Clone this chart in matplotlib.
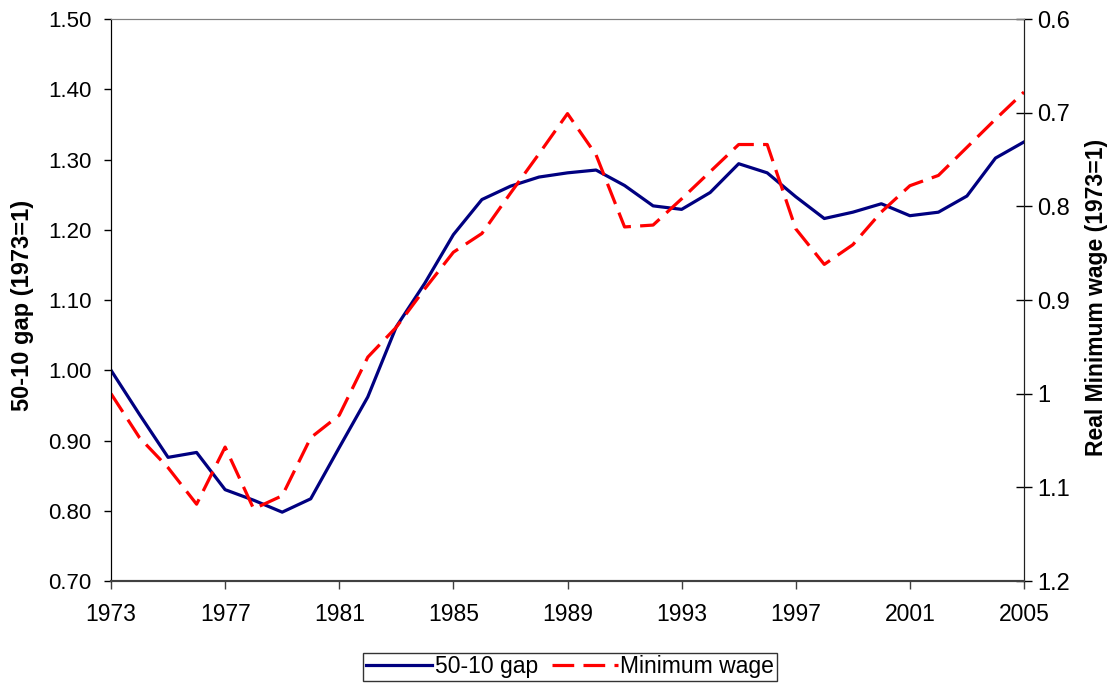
import matplotlib.pyplot as plt
import numpy as np

plt.rcParams['font.family'] = ['Liberation Sans', 'DejaVu Sans']

# ── Data ───────────────────────────────────────────────────────────────────────
years = np.arange(1973, 2006)

gap_50_10 = [1.000, 0.937, 0.876, 0.883, 0.830, 0.815, 0.798, 0.817, 0.890,
             0.962, 1.062, 1.124, 1.193, 1.243, 1.262, 1.275, 1.281, 1.285,
             1.263, 1.234, 1.229, 1.253, 1.294, 1.281, 1.247, 1.216, 1.225,
             1.237, 1.220, 1.225, 1.248, 1.302, 1.325]

min_wage = [1.000, 1.047, 1.079, 1.118, 1.057, 1.123, 1.109, 1.047, 1.023,
            0.961, 0.929, 0.888, 0.849, 0.829, 0.786, 0.744, 0.701, 0.745,
            0.822, 0.820, 0.792, 0.763, 0.734, 0.734, 0.824, 0.862, 0.841,
            0.806, 0.778, 0.767, 0.737, 0.707, 0.678]

x_ticks = np.arange(1973, 2006, 4)
left_ticks = np.arange(0.70, 1.501, 0.10)
right_ticks = [0.6, 0.7, 0.8, 0.9, 1.0, 1.1, 1.2]
right_labels = ["0.6", "0.7", "0.8", "0.9", "1", "1.1", "1.2"]

# ── Figure ─────────────────────────────────────────────────────────────────────
W, H = 1117, 685
fig = plt.figure(figsize=(W / 100, H / 100), dpi=100)
ax = fig.add_axes([111 / W, 1 - 581 / H, 913 / W, 562 / H])
ax2 = ax.twinx()

l1, = ax.plot(years, gap_50_10, color="#000080", lw=2.3, label="50-10 gap")
l2, = ax2.plot(years, min_wage, color="#ff0000", lw=2.3, dashes=(6.8, 2.9),
               label="Minimum wage")

ax.set_xlim(1973, 2005)
ax.set_ylim(0.70, 1.50)
ax2.set_ylim(1.2, 0.6)   # right axis runs downwards

ax.set_xticks(x_ticks)
ax.set_yticks(left_ticks)
ax.set_yticklabels([f"{v:.2f}" for v in left_ticks])
ax2.set_yticks(right_ticks)
ax2.set_yticklabels(right_labels)

ax.tick_params(axis="y", labelsize=16, direction="out", length=5, width=1,
               pad=9)
ax.tick_params(axis="x", labelsize=16.5, direction="out", length=6, width=1,
               colors="#404040", labelcolor="black", pad=10)
ax2.tick_params(axis="y", labelsize=17, direction="inout", length=11, width=1,
                pad=4)

ax.set_ylabel("50-10 gap (1973=1)", fontsize=17, fontweight="bold",
              va="center")
ax.yaxis.set_label_coords(-88 / 913, 0.49, transform=ax.transAxes)
ax2.set_ylabel("Real Minimum wage (1973=1)", fontsize=16.5, fontweight="bold",
               va="center", rotation=90)
ax2.yaxis.set_label_coords(1 + 73 / 913, 0.505, transform=ax.transAxes)

for a in (ax, ax2):
    a.spines["top"].set_color("#808080")
    a.spines["bottom"].set_color("#404040")
    a.spines["left"].set_color("black")
    a.spines["right"].set_color("#202020")
    a.spines["bottom"].set_linewidth(1.5)

leg = fig.legend(handles=[l1, l2], loc="center",
                 bbox_to_anchor=(570 / W, 1 - 667 / H),
                 ncol=2, fontsize=16.5, frameon=True, fancybox=False,
                 handlelength=2.9, handletextpad=0.1, columnspacing=0.6,
                 borderpad=0.12, borderaxespad=0)
leg.get_frame().set_edgecolor("black")
leg.get_frame().set_linewidth(1)

fig.savefig("out.png", dpi=100)
